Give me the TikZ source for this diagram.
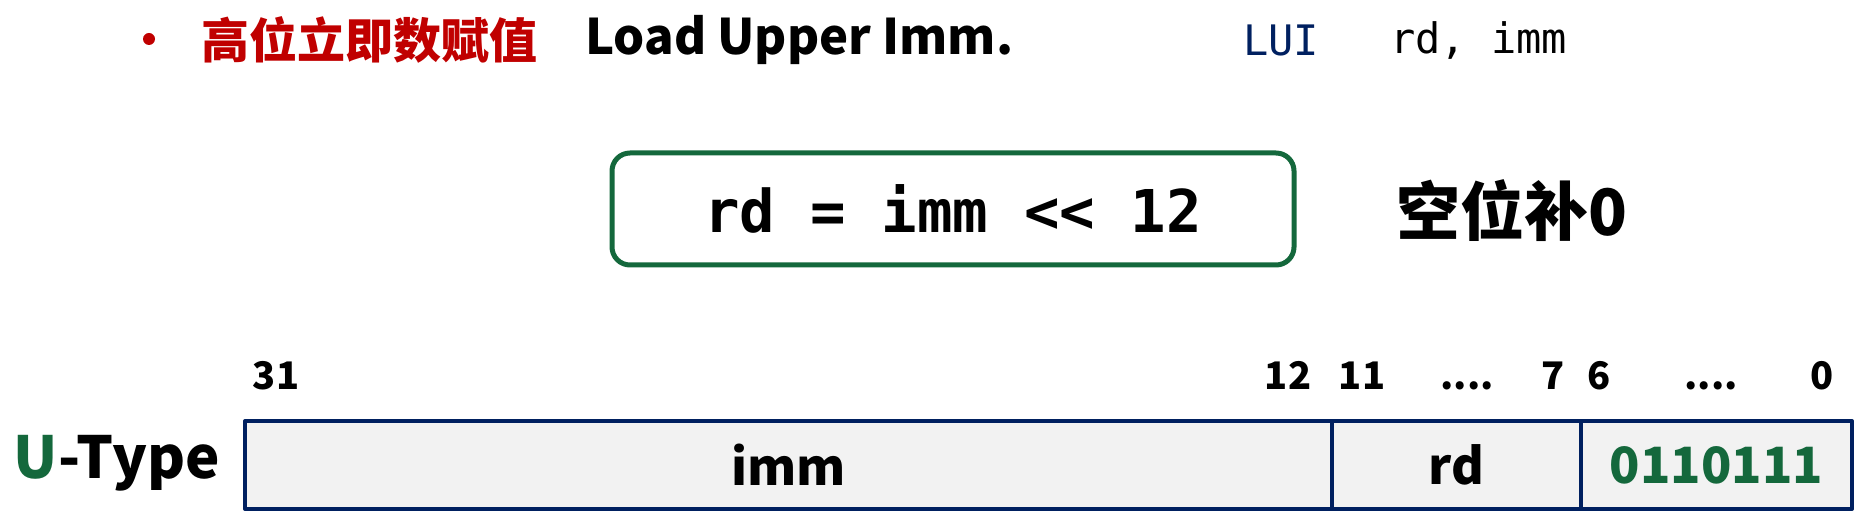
\documentclass[tikz,border=0pt]{standalone}
\usepackage{fontspec}
\setmainfont{Noto Sans CJK SC}
\setmonofont{DejaVu Sans Mono}
\usetikzlibrary{positioning}
\definecolor{titlered}{RGB}{192,0,0}
\definecolor{navy}{RGB}{0,32,96}
\definecolor{opgreen}{RGB}{20,104,60}
\definecolor{fieldgray}{RGB}{242,242,242}
\newcommand{\fs}[1]{\fontsize{#1}{#1}\selectfont\bfseries}
\newcommand{\bitdots}{....}
\begin{document}
\begin{tikzpicture}[x=1pt,y=-1pt,line join=round,inner sep=0pt,
		field/.style={draw=navy,line width=4pt,fill=fieldgray,outer sep=0pt,minimum height=88pt,font=\fs{50}},
		bitno/.style={font=\fs{38},anchor=base}]
	\useasboundingbox (0,0) rectangle (1874,518);
	% title line
	\node[circle,fill=titlered,minimum size=12pt] (dot) at (149,39) {};
	\node[anchor=west,text=titlered,font=\fs{48}] (title) at (201,40) {高位立即数赋值};
	\node[anchor=west,font=\fs{49}] (name) at (585,40) {Load Upper Imm.};
	\node[anchor=west,text=navy,font=\fs{42}\ttfamily\mdseries] (op) at (1243,40) {LUI};
	\node[anchor=west,font=\fs{42}\ttfamily\mdseries] (args) at (1390,40) {rd, imm};
	% semantics
	\node[draw=opgreen,line width=5pt,rounded corners=18pt,minimum width=682pt,minimum height=112pt] (sem) at (953,209) {};
	\node[font=\fs{59}\ttfamily] (expr) at (sem) {rd = imm << 12};
	\node[anchor=west,font=\fs{64}] (fill) at (1396,211) {空位补0};
	% bit numbers
	\foreach \x/\t [count=\i] in {276/31,1288/12,1362/11,1467/\bitdots,1553/7,1599/6,1711/\bitdots,1822/0}
		\node[bitno] (b\i) at (\x,389) {\t};
	% fields
	\node[field,anchor=west,minimum width=1087pt] (imm) at (245,465) {imm};
	\node[field,minimum width=249pt,right=0pt of imm] (rd) {rd};
	\node[field,minimum width=271pt,right=0pt of rd,text=opgreen] (opc) {0110111};
	\node[anchor=east,font=\fs{58}] (utype) at (220,463) {\textcolor{opgreen}{U}-Type};
\end{tikzpicture}
\end{document}
